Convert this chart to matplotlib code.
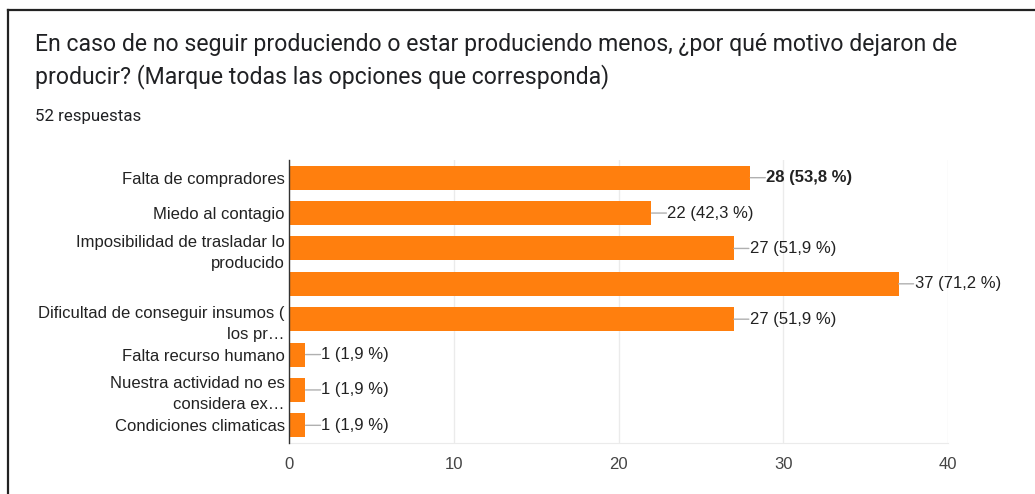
import matplotlib
matplotlib.use("Agg")
import matplotlib.pyplot as plt
from matplotlib.lines import Line2D

categories = [
    "Falta de compradores",
    "Miedo al contagio",
    "Imposibilidad de trasladar lo\nproducido",
    "",
    "Dificultad de conseguir insumos (\nlos pr…",
    "Falta recurso humano",
    "Nuestra actividad no es\nconsidera ex…",
    "Condiciones climaticas",
]
values = [28, 22, 27, 37, 27, 1, 1, 1]
percents = ["53,8", "42,3", "51,9", "71,2", "51,9", "1,9", "1,9", "1,9"]
bold_flags = [True, False, False, False, False, False, False, False]
xticks = [0, 10, 20, 30, 40]

W, H = 1035, 494
fig = plt.figure(figsize=(W / 100, H / 100), dpi=100)
fig.patch.set_facecolor("white")

# frame border (left + top)
fig.add_artist(Line2D([8 / W, 8 / W], [0, 1 - 10 / H], color="#222222", lw=1.6,
                      transform=fig.transFigure))
fig.add_artist(Line2D([8 / W, 1], [1 - 10 / H, 1 - 10 / H], color="#222222", lw=1.6,
                      transform=fig.transFigure))

fig.text(35 / W, 1 - 45 / H, "En caso de no seguir produciendo o estar produciendo menos, ¿por qué motivo dejaron de",
         fontsize=16.55, family="Roboto", color="#202124", va="center", ha="left")
fig.text(35 / W, 1 - 77 / H, "producir? (Marque todas las opciones que corresponda)",
         fontsize=16.55, family="Roboto", color="#202124", va="center", ha="left")
fig.text(35 / W, 1 - 116 / H, "52 respuestas", fontsize=12.2, family="Roboto",
         color="#202124", va="center", ha="left")

left, right, top, bottom = 289, 948, 160, 443
ax = fig.add_axes([left / W, 1 - bottom / H, (right - left) / W, (bottom - top) / H])
ypos = list(range(len(categories)))
ax.barh(ypos, values, height=0.68, color="#ff7f0e", zorder=3)
ax.set_ylim(len(categories) - 0.5, -0.5)
ax.set_xlim(0, 40)
ax.set_xticks(xticks)
ax.set_xticklabels([str(t) for t in xticks], fontsize=12, family="Liberation Sans", color="#444444")
ax.set_yticks(ypos)
ax.set_yticklabels(categories, fontsize=12, family="Liberation Sans", color="#222222",
                   linespacing=1.5)
ax.tick_params(axis="both", length=0)
ax.tick_params(axis="x", pad=10)
ax.tick_params(axis="y", pad=3)
ax.xaxis.grid(True, color="#ebebeb", lw=1, zorder=0)
for s in ["top", "right"]:
    ax.spines[s].set_visible(False)
ax.spines["bottom"].set_color("#ebebeb")
ax.spines["left"].set_color("#333333")
ax.spines["left"].set_linewidth(1.0)
ax.spines["left"].set_zorder(4)

for y, v, p, b in zip(ypos, values, percents, bold_flags):
    ax.annotate("", xy=(v, y), xycoords="data",
                xytext=(15 * 72 / 100, 0), textcoords="offset points",
                arrowprops=dict(arrowstyle="-", color="#b0b0b0", lw=1.0,
                                shrinkA=0, shrinkB=0))
    ax.annotate(f"{v} ({p} %)", xy=(v, y), xycoords="data",
                xytext=(16 * 72 / 100, 0), textcoords="offset points",
                va="center", ha="left", fontsize=12, family="Liberation Sans",
                color="#222222", fontweight="bold" if b else "normal")

fig.savefig("out.png", dpi=100, facecolor="white")
